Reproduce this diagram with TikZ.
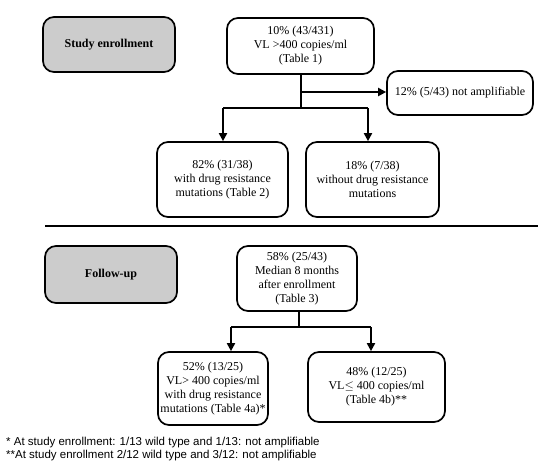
\documentclass[tikz,border=0pt]{standalone}
\usepackage{fontspec}
\setmainfont{Liberation Serif}
\newfontfamily\footfont{Liberation Sans}
\usetikzlibrary{arrows.meta}
\tikzset{
  box/.style={draw, line width=1.7pt, rounded corners=11pt, align=center, inner sep=2pt,
    font=\fontsize{12}{14}\selectfont},
  greybox/.style={box, fill=black!20, font=\fontsize{12}{14}\selectfont\bfseries},
  conn/.style={line width=2.8pt},
  thinconn/.style={line width=1.9pt},
  arr/.style={-{Triangle[length=8pt,width=8pt]}},
}
\begin{document}
\begin{tikzpicture}[x=1pt,y=-1pt]
\useasboundingbox (0,0) rectangle (544,472);
\node[greybox, minimum width=132pt, minimum height=55pt] (enr) at (109,44.5) {Study enrollment};
\node[box, minimum width=147pt, minimum height=56pt] (top) at (300.5,46) {10\% (43/431)\\VL >400 copies/ml\\(Table 1)};
\node[box, minimum width=146pt, minimum height=44pt] (na) at (460,93) {12\% (5/43) not amplifiable};
\node[box, minimum width=131pt, minimum height=75pt] (lb1) at (222.5,179.5) {82\% (31/38)\\with drug resistance\\mutations (Table 2)};
\node[box, minimum width=133pt, minimum height=75pt] (rb1) at (372.5,179.5) {18\% (7/38)\\without drug resistance\\mutations};
\node[greybox, minimum width=132pt, minimum height=57pt] (fu) at (111,274.5) {Follow-up};
\node[box, minimum width=120pt, minimum height=65pt] (mid) at (297,278.5) {58\% (25/43)\\Median 8 months\\after enrollment\\(Table 3)};
\node[box, minimum width=110pt, minimum height=73pt] (lb2) at (213,388.5) {52\% (13/25)\\VL> 400 copies/ml\\with drug resistance\\mutations (Table 4a)*};
\node[box, minimum width=137pt, minimum height=70pt] (rb2) at (376.5,387) {48\% (12/25)\\VL\(\leq\) 400 copies/ml\\(Table 4b)**};
% top section connectors
\coordinate (j1) at (301,108);
\coordinate (j1a) at (301,92);
\coordinate (bl1) at (223,108);
\coordinate (br1) at (368,108);
\draw[conn] (top.south -| j1) -- (j1);
\draw[conn, arr] (j1a) -- (j1a -| na.west);
\draw[thinconn] (bl1) -- (br1);
\draw[thinconn, arr] (bl1) -- (bl1 |- lb1.north);
\draw[thinconn, arr] (br1) -- (br1 |- rb1.north);
% separator
\coordinate (s1) at (45,226);
\coordinate (s2) at (538,226);
\draw[line width=2.8pt] (s1) -- (s2);
% follow-up connectors
\coordinate (j2) at (299,327);
\coordinate (bl2) at (231,327);
\coordinate (br2) at (371,327);
\draw[thinconn] (mid.south -| j2) -- (j2);
\draw[thinconn] (bl2) -- (br2);
\draw[thinconn, arr] (bl2) -- (bl2 |- lb2.north);
\draw[thinconn, arr] (br2) -- (br2 |- rb2.north);
% footnotes
\node[anchor=west, inner sep=0pt, font=\footfont\fontsize{11.5}{12.5}\selectfont, align=left] (fn) at (6,449)
  {* At study enrollment: 1/13 wild type and 1/13: not amplifiable\\**At study enrollment 2/12 wild type and 3/12: not amplifiable};
\end{tikzpicture}
\end{document}
